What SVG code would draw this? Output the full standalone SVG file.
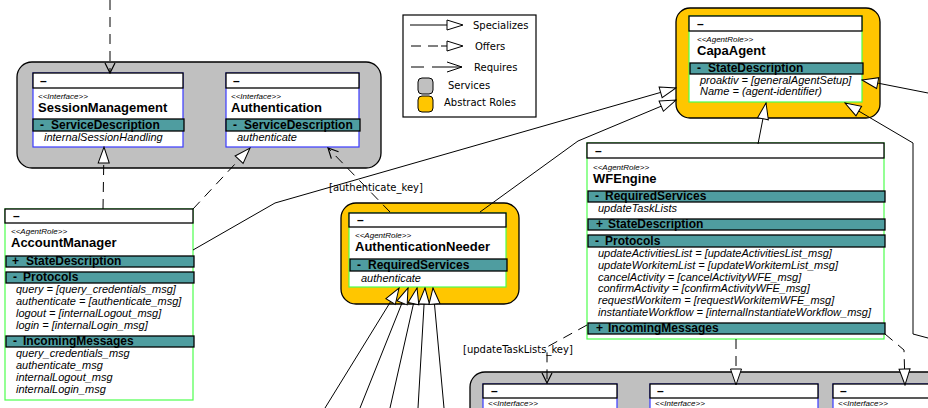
<svg xmlns="http://www.w3.org/2000/svg" width="928" height="408" viewBox="0 0 928 408">
<style>
text{font-family:"Liberation Sans",Arial,sans-serif;fill:#000}
.hdr{fill:#fff;stroke:#000;stroke-width:1.3}
.teal{fill:#4f9da0;stroke:#000;stroke-width:1.3}
.bs{fill:#fff;stroke:#3a3aff;stroke-width:1.2}
.ba{fill:#fff;stroke:#4dff4d;stroke-width:1.2}
.gs{fill:#c0c0c0;stroke:#000;stroke-width:1.3}
.ga{fill:#ffc600;stroke:#000;stroke-width:1.3}
.dash{font-size:12px;font-weight:bold}
.st{font-size:8px;font-style:italic}
.nm{font-size:13px;font-weight:bold}
.sec{font-size:12px;font-weight:bold}
.it{font-size:11px;font-style:italic}
.lg{font-family:"DejaVu Sans",sans-serif;font-size:10px}
.c{fill:none;stroke:#000;stroke-width:1}
.d{stroke-dasharray:10,7}
</style>
<defs>
<marker id="tri" markerUnits="userSpaceOnUse" viewBox="0 0 18 14" markerWidth="18" markerHeight="14" refX="17" refY="7" orient="auto"><path d="M1,1.5 L17,7 L1,12.5 z" fill="#fff" stroke="#000" stroke-width="1"/></marker>
<marker id="opn" markerUnits="userSpaceOnUse" viewBox="0 0 12 12" markerWidth="12" markerHeight="12" refX="11" refY="6" orient="auto"><path d="M1,1 L11,6 L1,11" fill="none" stroke="#000" stroke-width="1.2"/></marker>
</defs>

<g id="services-top">
<rect class="gs" x="17" y="62" width="364" height="106" rx="15"/>
</g>
<g id="SessionManagement">
<rect class="bs" x="33" y="73" width="150" height="74"/>
<rect class="hdr" x="33" y="73" width="150" height="15"/>
<text class="dash" x="40" y="85">–</text>
<text class="st" x="38" y="99">&lt;&lt;Interface&gt;&gt;</text>
<text class="nm" x="38" y="112">SessionManagement</text>
<rect class="teal" x="33" y="119" width="151" height="12"/>
<text class="sec" x="40" y="129">-</text><text class="sec" x="51" y="129">ServiceDescription</text>
<text class="it" x="44" y="141">internalSessionHandling</text>
</g>
<g id="Authentication">
<rect class="bs" x="226" y="73" width="133" height="74"/>
<rect class="hdr" x="226" y="73" width="133" height="15"/>
<text class="dash" x="233" y="85">–</text>
<text class="st" x="231" y="99">&lt;&lt;Interface&gt;&gt;</text>
<text class="nm" x="231" y="112">Authentication</text>
<rect class="teal" x="226" y="119" width="134" height="12"/>
<text class="sec" x="233" y="129">-</text><text class="sec" x="244" y="129">ServiceDescription</text>
<text class="it" x="237" y="141">authenticate</text>
</g>

<g id="legend">
<rect x="403" y="15" width="133" height="102" fill="#fff" stroke="#000" stroke-width="1.2"/>
<line class="c" x1="410" y1="25" x2="447" y2="25"/>
<path d="M447,20 L463,25 L447,30 z" fill="#fff" stroke="#000"/>
<text class="lg" x="473" y="29">Specializes</text>
<path class="c" d="M411,46 H421 M428,46 H438 M441,46 H447"/>
<path d="M447,41 L463,46 L447,51 z" fill="#fff" stroke="#000"/>
<text class="lg" x="475" y="50">Offers</text>
<path class="c" d="M411,67 H424 M432,67 H462 M447,62 L462,67 L447,72"/>
<text class="lg" x="474" y="71">Requires</text>
<rect x="418" y="78" width="15" height="16" rx="4" fill="#c0c0c0" stroke="#000"/>
<text class="lg" x="448" y="89">Services</text>
<rect x="418" y="96" width="15" height="16" rx="4" fill="#ffc600" stroke="#000"/>
<text class="lg" x="444" y="106">Abstract Roles</text>
</g>

<g id="CapaAgent">
<rect class="ga" x="676" y="8" width="204" height="110" rx="14"/>
<rect class="ba" x="689" y="16" width="173" height="86"/>
<rect class="hdr" x="689" y="16" width="173" height="15"/>
<text class="dash" x="697" y="28">–</text>
<text class="st" x="697" y="42">&lt;&lt;AgentRole&gt;&gt;</text>
<text class="nm" x="697" y="55">CapaAgent</text>
<rect class="teal" x="690" y="63" width="173" height="11"/>
<text class="sec" x="697" y="72">-</text><text class="sec" x="708" y="72">StateDescription</text>
<text class="it" x="700" y="84">proaktiv = [generalAgentSetup]</text>
<text class="it" x="700" y="95">Name = (agent-identifier)</text>
</g>

<g id="AccountManager">
<rect class="ba" x="5" y="209" width="188" height="191"/>
<rect class="hdr" x="5" y="209" width="188" height="14"/>
<text class="dash" x="13" y="220">–</text>
<text class="st" x="11" y="234">&lt;&lt;AgentRole&gt;&gt;</text>
<text class="nm" x="11" y="247">AccountManager</text>
<rect class="teal" x="6" y="256" width="188" height="11"/>
<text class="sec" x="12" y="265">+</text><text class="sec" x="26" y="265">StateDescription</text>
<rect class="teal" x="6" y="272" width="188" height="11"/>
<text class="sec" x="13" y="281">-</text><text class="sec" x="23" y="281">Protocols</text>
<text class="it" x="16" y="293">query = [query_credentials_msg]</text>
<text class="it" x="16" y="305">authenticate = [authenticate_msg]</text>
<text class="it" x="16" y="317">logout = [internalLogout_msg]</text>
<text class="it" x="16" y="329">login = [internalLogin_msg]</text>
<rect class="teal" x="6" y="336" width="188" height="11"/>
<text class="sec" x="13" y="345">-</text><text class="sec" x="23" y="345">IncomingMessages</text>
<text class="it" x="16" y="357">query_credentials_msg</text>
<text class="it" x="16" y="369">authenticate_msg</text>
<text class="it" x="16" y="381">internalLogout_msg</text>
<text class="it" x="16" y="393">internalLogin_msg</text>
</g>

<g id="AuthenticationNeeder">
<rect class="ga" x="341" y="203" width="178" height="101" rx="15"/>
<rect class="ba" x="349" y="213" width="157" height="74"/>
<rect class="hdr" x="349" y="213" width="157" height="14"/>
<text class="dash" x="357" y="224">–</text>
<text class="st" x="355" y="238">&lt;&lt;AgentRole&gt;&gt;</text>
<text class="nm" x="355" y="251">AuthenticationNeeder</text>
<rect class="teal" x="350" y="259" width="157" height="12"/>
<text class="sec" x="357" y="269">-</text><text class="sec" x="368" y="269">RequiredServices</text>
<text class="it" x="361" y="282">authenticate</text>
</g>

<g id="WFEngine">
<rect class="ba" x="587" y="143" width="297" height="196"/>
<rect class="hdr" x="587" y="143" width="297" height="15"/>
<text class="dash" x="595" y="155">–</text>
<text class="st" x="593" y="170">&lt;&lt;AgentRole&gt;&gt;</text>
<text class="nm" x="593" y="183">WFEngine</text>
<rect class="teal" x="588" y="191" width="297" height="11"/>
<text class="sec" x="595" y="200">-</text><text class="sec" x="605" y="200">RequiredServices</text>
<text class="it" x="598" y="212">updateTaskLists</text>
<rect class="teal" x="588" y="219" width="297" height="11"/>
<text class="sec" x="596" y="228">+</text><text class="sec" x="608" y="228">StateDescription</text>
<rect class="teal" x="588" y="235" width="297" height="12"/>
<text class="sec" x="595" y="245">-</text><text class="sec" x="605" y="245">Protocols</text>
<text class="it" x="598" y="257">updateActivitiesList = [updateActivitiesList_msg]</text>
<text class="it" x="598" y="269">updateWorkitemList = [updateWorkitemList_msg]</text>
<text class="it" x="598" y="280.5">cancelActivity = [cancelActivityWFE_msg]</text>
<text class="it" x="598" y="292">confirmActivity = [confirmActivityWFE_msg]</text>
<text class="it" x="598" y="304">requestWorkitem = [requestWorkitemWFE_msg]</text>
<text class="it" x="598" y="316">instantiateWorkflow = [internalInstantiateWorkflow_msg]</text>
<rect class="teal" x="588" y="323" width="297" height="11"/>
<text class="sec" x="596" y="332">+</text><text class="sec" x="608" y="332">IncomingMessages</text>
</g>

<g id="services-bottom">
<rect class="gs" x="470" y="372" width="500" height="100" rx="15"/>
</g>
<g id="Interface-1">
<rect class="bs" x="483" y="384" width="134" height="40"/>
<rect class="hdr" x="483" y="384" width="134" height="14"/>
<text class="dash" x="491" y="395">–</text>
<text class="st" x="488" y="406">&lt;&lt;Interface&gt;&gt;</text>
</g>
<g id="Interface-2">
<rect class="bs" x="650" y="384" width="168" height="40"/>
<rect class="hdr" x="650" y="384" width="168" height="14"/>
<text class="dash" x="657" y="395">–</text>
<text class="st" x="655" y="406">&lt;&lt;Interface&gt;&gt;</text>
</g>
<g id="Interface-3">
<rect class="bs" x="833" y="384" width="120" height="40"/>
<rect class="hdr" x="833" y="384" width="120" height="14"/>
<text class="dash" x="840" y="395">–</text>
<text class="st" x="838" y="406">&lt;&lt;Interface&gt;&gt;</text>
</g>

<g id="connectors">
<path class="c d" d="M110,0 V73" marker-end="url(#opn)"/>
<path class="c d" d="M103,209 L104,147" marker-end="url(#tri)"/>
<path class="c d" d="M193,209 L250,148" marker-end="url(#tri)"/>
<path class="c d" d="M390,212 L328,148" marker-end="url(#opn)"/>
<text class="lg" x="329" y="191">[authenticate_key]</text>
<path class="c" d="M193,250 L275,203 L676,88" marker-end="url(#tri)"/>
<path class="c" d="M480,212 L578,141 L676,100" marker-end="url(#tri)"/>
<path class="c" d="M758,144 L766,103" marker-end="url(#tri)"/>
<path class="c" d="M928,93 L862,80" marker-end="url(#tri)"/>
<path class="c" d="M928,338 L913,334 L913,143 L845,103" marker-end="url(#tri)"/>
<path class="c" d="M325,408 L399,288" marker-end="url(#tri)"/>
<path class="c" d="M360,408 L408,288" marker-end="url(#tri)"/>
<path class="c" d="M390,408 L417,288" marker-end="url(#tri)"/>
<path class="c" d="M418,408 L425,288" marker-end="url(#tri)"/>
<path class="c" d="M444,408 L433,288" marker-end="url(#tri)"/>
<path class="c d" d="M587,325 L547,347 L547,383" marker-end="url(#opn)"/>
<text class="lg" x="463" y="353">[updateTaskLists_key]</text>
<path class="c d" d="M736,339 V385" marker-end="url(#tri)"/>
<path class="c d" d="M885,334 L904,350 L905,385" marker-end="url(#tri)"/>
</g>
</svg>
